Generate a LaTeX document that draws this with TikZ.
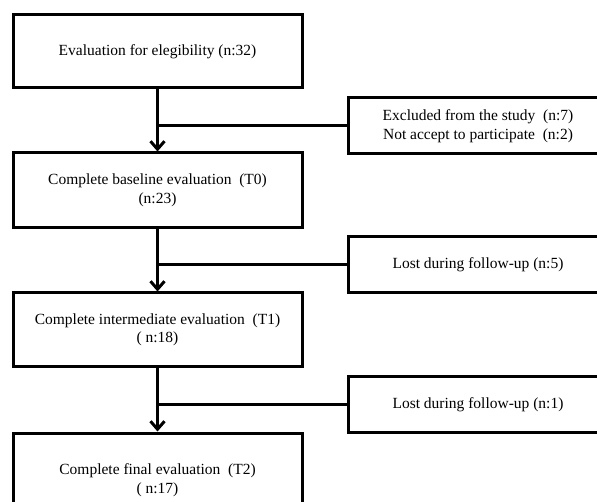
\documentclass[tikz,border=0pt]{standalone}
\usepackage{fontspec}
\setmainfont{Liberation Serif}
\usetikzlibrary{arrows.meta}

\tikzset{
  stagebox/.style={draw, line width=3pt, minimum width=289pt, align=center,
    font=\fontsize{15.5}{18.5}\selectfont},
  lossbox/.style={draw, line width=3pt, minimum width=260pt, minimum height=56pt,
    align=center, font=\fontsize{15.5}{19}\selectfont},
  flow/.style={line width=3pt, -{Straight Barb[length=8pt, width=14pt]}},
  branch/.style={line width=3pt}
}

\begin{document}
\begin{tikzpicture}[x=1pt, y=-1pt]

\useasboundingbox (0,0) rectangle (597,502);
\clip (0,0) rectangle (597,502);

% main stages
\node[stagebox, minimum height=73pt] (elig) at (157.5,51.5) {Evaluation for elegibility (n:32)};
\node[stagebox, minimum height=75pt] (base) at (157.5,190.5) {Complete baseline evaluation\ \ (T0)\\(n:23)};
\node[stagebox, minimum height=74pt] (inter) at (157.5,330) {Complete intermediate evaluation\ \ (T1)\\( n:18)};
\node[stagebox, minimum height=94pt] (final) at (157.5,480) {Complete final evaluation\ \ (T2)\\( n:17)};

% drop-outs
\node[lossbox] (excl) at (478,126) {Excluded from the study\ \ (n:7)\\Not accept to participate\ \ (n:2)};
\node[lossbox] (lost1) at (478,265) {Lost during follow-up (n:5)};
\node[lossbox, minimum height=55pt] (lost2) at (478,404.5) {Lost during follow-up (n:1)};

\draw[flow] (elig) -- (base);
\draw[flow] (base) -- (inter);
\draw[flow] (inter) -- (final);

\draw[branch] (excl.west) -- (excl.west -| elig.south);
\draw[branch] (lost1.west) -- (lost1.west -| base.south);
\draw[branch] (lost2.west) -- (lost2.west -| inter.south);

\end{tikzpicture}
\end{document}
